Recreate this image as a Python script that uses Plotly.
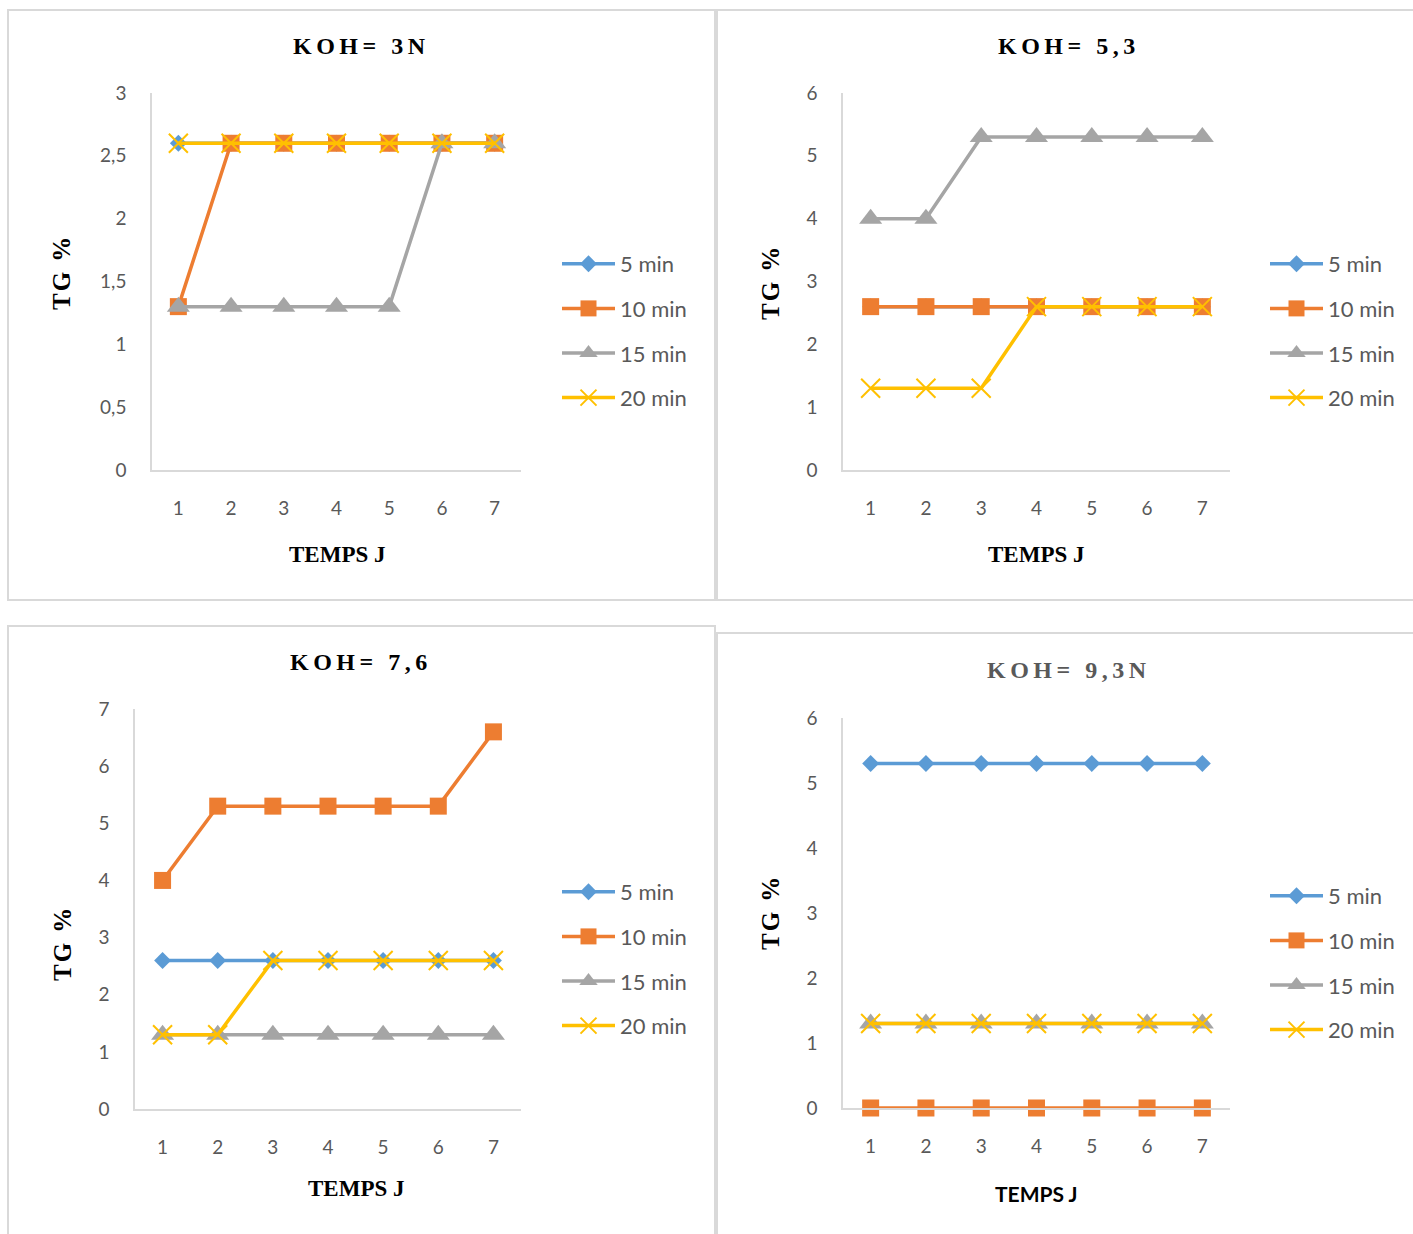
import plotly.graph_objects as go

W, H = 1413, 1234

days = [1, 2, 3, 4, 5, 6, 7]
series_names = ["5 min", "10 min", "15 min", "20 min"]

# KOH = 3N
p1_5 = [2.6, 2.6, 2.6, 2.6, 2.6, 2.6, 2.6]
p1_10 = [1.3, 2.6, 2.6, 2.6, 2.6, 2.6, 2.6]
p1_15 = [1.3, 1.3, 1.3, 1.3, 1.3, 2.6, 2.6]
p1_20 = [2.6, 2.6, 2.6, 2.6, 2.6, 2.6, 2.6]

# KOH = 5,3
p2_5 = [2.6, 2.6, 2.6, 2.6, 2.6, 2.6, 2.6]
p2_10 = [2.6, 2.6, 2.6, 2.6, 2.6, 2.6, 2.6]
p2_15 = [4, 4, 5.3, 5.3, 5.3, 5.3, 5.3]
p2_20 = [1.3, 1.3, 1.3, 2.6, 2.6, 2.6, 2.6]

# KOH = 7,6
p3_5 = [2.6, 2.6, 2.6, 2.6, 2.6, 2.6, 2.6]
p3_10 = [4, 5.3, 5.3, 5.3, 5.3, 5.3, 6.6]
p3_15 = [1.3, 1.3, 1.3, 1.3, 1.3, 1.3, 1.3]
p3_20 = [1.3, 1.3, 2.6, 2.6, 2.6, 2.6, 2.6]

# KOH = 9,3N
p4_5 = [5.3, 5.3, 5.3, 5.3, 5.3, 5.3, 5.3]
p4_10 = [0, 0, 0, 0, 0, 0, 0]
p4_15 = [1.3, 1.3, 1.3, 1.3, 1.3, 1.3, 1.3]
p4_20 = [1.3, 1.3, 1.3, 1.3, 1.3, 1.3, 1.3]

titles = ["KOH= 3N", "KOH= 5,3", "KOH= 7,6", "KOH= 9,3N"]
xlabel = "TEMPS J"
ylabel = "TG %"
y_max = [3, 6, 7, 6]
y_dtick = [0.5, 1, 1, 1]

panels_data = [
    [p1_5, p1_10, p1_15, p1_20],
    [p2_5, p2_10, p2_15, p2_20],
    [p3_5, p3_10, p3_15, p3_20],
    [p4_5, p4_10, p4_15, p4_20],
]

colors = ["#5B9BD5", "#ED7D31", "#A5A5A5", "#FFC000"]
symbols = ["diamond", "square", "triangle-up", "x-thin"]
msizes = [13, 17, 20, 19]


def px(x):
    return x / W


def py(y):
    return 1 - y / H


# plot areas in pixels: (left, right, top, bottom)
areas = [
    (152, 521, 93, 470),
    (843, 1230, 93, 470),
    (135, 521, 709, 1109),
    (843, 1230, 718, 1108),
]
# panel frames in pixels
frames = [
    (8, 715, 10, 600),
    (717, 1420, 10, 600),
    (8, 715, 626, 1245),
    (717, 1420, 633, 1245),
]
title_pos = [(361, 46), (1069, 46), (361, 662), (1069, 670)]
title_colors = ["#000000", "#000000", "#000000", "#595959"]
ylab_pos = [(62, 273), (770, 283), (62, 944), (770, 913)]
xlab_pos = [(337, 554), (1036, 554), (356, 1188), (1036, 1193)]
legend_pos = [(557, 243), (1265, 243), (557, 871), (1265, 875)]

fig = go.Figure()

for i, data in enumerate(panels_data):
    n = "" if i == 0 else str(i + 1)
    lg = "legend" + n
    for j, vals in enumerate(data):
        mk = dict(symbol=symbols[j], size=msizes[j], color=colors[j])
        if symbols[j] == "x-thin":
            mk["line"] = dict(color=colors[j], width=2)
        fig.add_trace(go.Scatter(
            x=days, y=vals, name=series_names[j], mode="lines+markers",
            line=dict(color=colors[j], width=3.5),
            marker=mk, cliponaxis=False,
            xaxis="x" + n, yaxis="y" + n, legend=lg,
            legendgroup=f"g{i}_{j}",
        ))
    l, r, t, b = areas[i]
    fig.update_layout(**{
        "xaxis" + n: dict(
            domain=[px(l), px(r)], anchor="y" + n, range=[0.5, 7.5],
            tickvals=days, ticktext=[str(d) for d in days],
            showline=True, linecolor="#D9D9D9", linewidth=1.5,
            showgrid=False, zeroline=False, ticks="",
            ticklabelstandoff=20, automargin=False,
            tickfont=dict(family="Lato", size=19, color="#595959"),
        ),
        "yaxis" + n: dict(
            domain=[py(b), py(t)], anchor="x" + n, range=[0, y_max[i]],
            dtick=y_dtick[i], tick0=0,
            showline=True, linecolor="#D9D9D9", linewidth=1.5,
            showgrid=False, zeroline=False, ticks="",
            ticklabelstandoff=20, automargin=False,
            tickfont=dict(family="Lato", size=19, color="#595959"),
        ),
        lg: dict(
            x=px(legend_pos[i][0]), y=py(legend_pos[i][1]),
            xanchor="left", yanchor="top",
            font=dict(family="Lato", size=22, color="#595959"),
            bgcolor="rgba(0,0,0,0)", itemwidth=53, tracegroupgap=13,
        ),
    })
    fx0, fx1, fy0, fy1 = frames[i]
    fig.add_shape(type="rect", xref="paper", yref="paper",
                  x0=px(fx0), x1=px(fx1), y0=py(fy1), y1=py(fy0),
                  line=dict(color="#D9D9D9", width=2), layer="below")
    fig.add_annotation(
        x=px(title_pos[i][0]), y=py(title_pos[i][1]), xref="paper", yref="paper",
        text=f'<b><span style="letter-spacing:4.5px">{titles[i]}</span></b>',
        showarrow=False, xanchor="center", yanchor="middle",
        font=dict(family="Liberation Serif", size=24, color=title_colors[i]),
    )
    fig.add_annotation(
        x=px(ylab_pos[i][0]), y=py(ylab_pos[i][1]), xref="paper", yref="paper",
        text=f'<b><span style="letter-spacing:2px">{ylabel}</span></b>',
        showarrow=False, textangle=-90, xanchor="center", yanchor="middle",
        font=dict(family="Liberation Serif", size=25, color="#000000"),
    )
    if i < 3:
        xfont = dict(family="Liberation Serif", size=23, color="#000000")
    else:
        xfont = dict(family="Lato", size=21, color="#000000")
    fig.add_annotation(
        x=px(xlab_pos[i][0]), y=py(xlab_pos[i][1]), xref="paper", yref="paper",
        text=f"<b>{xlabel}</b>",
        showarrow=False, xanchor="center", yanchor="middle", font=xfont,
    )

fig.update_layout(
    width=W, height=H,
    margin=dict(l=0, r=0, t=0, b=0, pad=0, autoexpand=False),
    paper_bgcolor="white", plot_bgcolor="white",
    separators=", ", showlegend=True,
)

fig.write_html("out.html")
